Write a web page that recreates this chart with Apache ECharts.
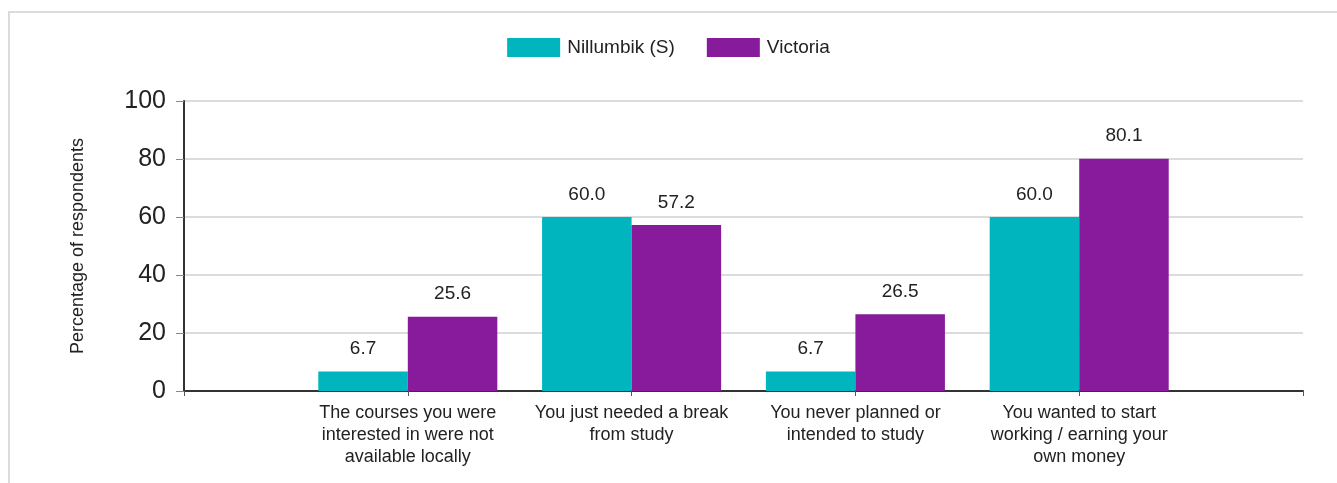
<!DOCTYPE html>
<html>
<head>
<meta charset="utf-8">
<script src="https://cdn.jsdelivr.net/npm/echarts@6/dist/echarts.min.js"></script>
<style>
  html, body { margin: 0; padding: 0; background: #fff; overflow: hidden; }
  #frame { position: absolute; left: 8px; top: 11px; width: 1360px; height: 500px; border: 2px solid #dcdcdc; box-sizing: border-box; }
  #chart { position: absolute; left: 0; top: 0; width: 1337px; height: 483px; }
</style>
</head>
<body>
<div id="frame"></div>
<div id="chart"></div>
<script>
const categories = [
  'The courses you were\ninterested in were not\navailable locally',
  'You just needed a break\nfrom study',
  'You never planned or\nintended to study',
  'You wanted to start\nworking / earning your\nown money'
];
const nillumbik = [6.7, 60.0, 6.7, 60.0];
const victoria = [25.6, 57.2, 26.5, 80.1];
const seriesNames = ['Nillumbik (S)', 'Victoria'];
const yTicks = [0, 20, 40, 60, 80, 100];

// pad with an empty slot on each side so the groups sit between the axis ends
const cats = [''].concat(categories, ['']);
const pad = arr => [null].concat(arr, [null]);

const FONT = 'Liberation Sans, Arial, sans-serif';
const chart = echarts.init(document.getElementById('chart'), null, { renderer: 'canvas' });
chart.setOption({
  animation: false,
  textStyle: { fontFamily: FONT },
  legend: {
    top: 33,
    left: 'center',
    itemWidth: 53,
    itemHeight: 19,
    itemGap: 32,
    icon: 'rect',
    textStyle: { fontSize: 19, color: '#222', fontFamily: FONT, padding: [0, 0, 0, 2] },
    data: seriesNames
  },
  grid: { left: 184, right: 34, top: 101, bottom: 92, containLabel: false },
  xAxis: {
    type: 'category',
    data: cats,
    boundaryGap: false,
    axisLine: { lineStyle: { color: '#333', width: 2 } },
    axisTick: { show: true, length: 5, lineStyle: { color: '#555' } },
    axisLabel: {
      interval: 0,
      fontSize: 18,
      lineHeight: 22,
      color: '#222',
      margin: 11,
      align: 'center'
    },
    splitLine: { show: false }
  },
  yAxis: {
    type: 'value',
    min: yTicks[0],
    max: yTicks[yTicks.length - 1],
    interval: 20,
    name: 'Percentage of respondents',
    nameLocation: 'middle',
    nameGap: 97,
    nameTextStyle: { fontSize: 18, color: '#222' },
    axisLine: { show: true, lineStyle: { color: '#333', width: 2 } },
    axisTick: { show: true, length: 8, lineStyle: { color: '#888' } },
    axisLabel: { fontSize: 25, color: '#222', margin: 18 },
    splitLine: { show: true, lineStyle: { color: '#dcdcdc', width: 2 } }
  },
  series: [
    {
      name: seriesNames[0],
      type: 'bar',
      data: pad(nillumbik),
      barGap: '0%',
      barCategoryGap: '20%',
      itemStyle: { color: '#00B5BD' },
      label: { show: true, position: 'top', distance: 13, fontSize: 19, color: '#222', formatter: p => p.value.toFixed(1) }
    },
    {
      name: seriesNames[1],
      type: 'bar',
      data: pad(victoria),
      barGap: '0%',
      barCategoryGap: '20%',
      itemStyle: { color: '#871B9B' },
      label: { show: true, position: 'top', distance: 13, fontSize: 19, color: '#222', formatter: p => p.value.toFixed(1) }
    }
  ]
});
</script>
</body>
</html>
